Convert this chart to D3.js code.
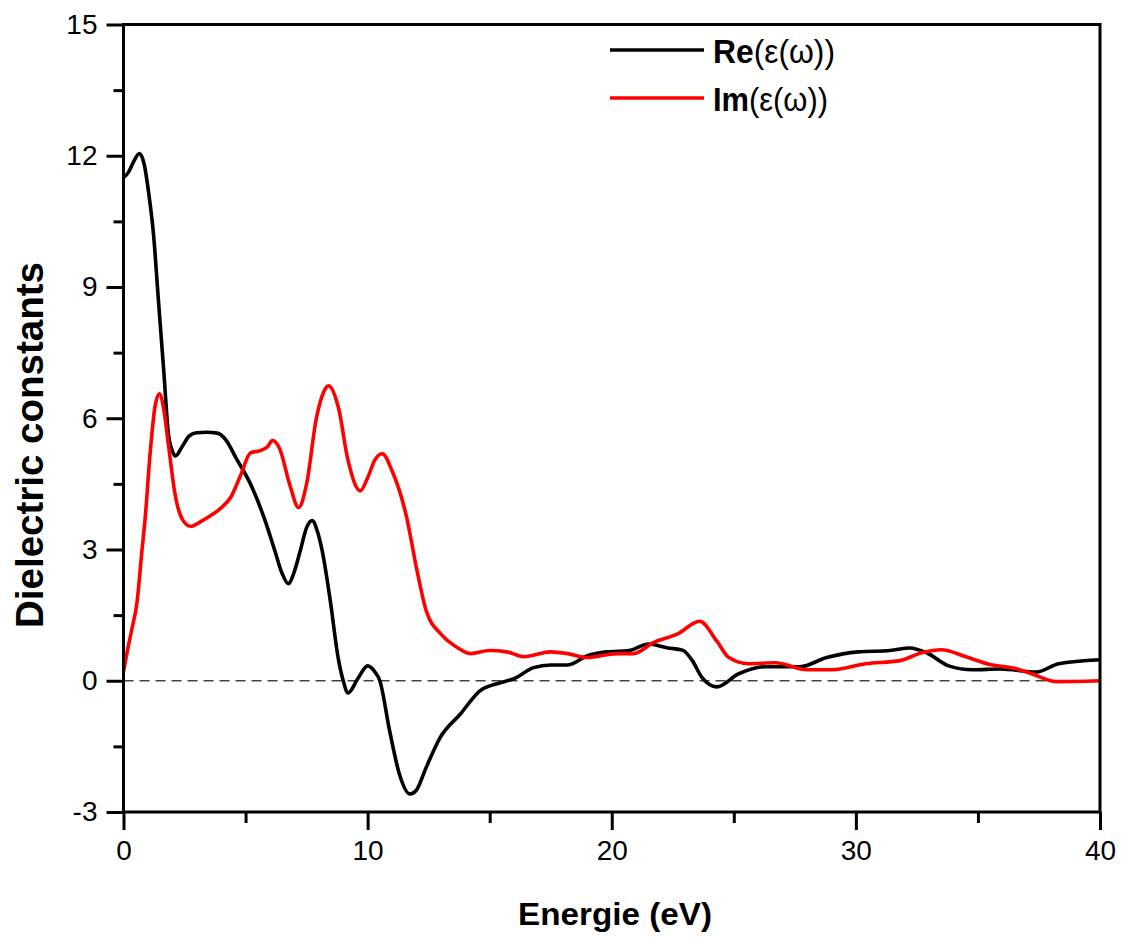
<!DOCTYPE html>
<html><head><meta charset="utf-8">
<script src="https://cdn.jsdelivr.net/npm/d3@7"></script>
<style>body{margin:0;background:#fff}svg{display:block}</style>
</head><body>
<svg id="chart" width="1123" height="941"></svg>
<script>
const energyRe = [0,0.2,0.4,0.65,0.85,1.02,1.23,1.43,1.64,1.84,2.0,2.13,2.4,2.7,3.0,3.4,3.84,4.2,4.6,5.2,5.8,6.2,6.5,6.75,7.0,7.24,7.5,7.73,7.95,8.14,8.47,8.8,9.0,9.2,9.6,10.0,10.3,10.5,10.9,11.3,11.74,12.0,12.4,12.97,13.8,14.6,15.4,16.0,16.8,17.5,18.2,19.0,19.8,20.7,21.5,22.3,22.9,23.3,23.7,24.3,25.2,26.3,27.7,28.8,30.1,31.4,32.2,32.9,33.8,34.8,35.9,37.4,38.3,40];
const reValues = [11.5,11.62,11.85,12.05,11.8,11.2,10.2,8.7,7.15,5.64,5.25,5.14,5.35,5.6,5.67,5.68,5.66,5.5,5.1,4.5,3.66,2.97,2.45,2.22,2.5,2.97,3.5,3.66,3.4,2.97,1.83,0.5,0.0,-0.28,0.05,0.34,0.2,0.0,-1.14,-2.13,-2.59,-2.5,-1.98,-1.3,-0.76,-0.23,-0.05,0.05,0.3,0.36,0.36,0.57,0.66,0.69,0.84,0.75,0.7,0.46,0.07,-0.14,0.16,0.32,0.32,0.53,0.66,0.69,0.75,0.64,0.34,0.25,0.27,0.2,0.39,0.48];
const energyIm = [0,0.14,0.35,0.55,0.76,0.88,1.1,1.3,1.47,1.65,1.84,2.1,2.4,2.75,3.2,3.56,4.0,4.4,4.8,5.2,5.6,5.9,6.1,6.4,6.8,7.17,7.5,7.9,8.2,8.4,8.8,9.2,9.7,10.0,10.3,10.6,11.0,11.6,12.0,12.4,13.0,13.7,14.2,15.0,15.7,16.4,17.5,18.2,19.0,20.2,20.9,21.7,22.7,23.6,24.3,24.8,25.6,26.7,28.0,29.0,30.4,31.8,32.7,33.5,34.5,35.5,36.6,37.2,38.2,40];
const imValues = [0.2,0.63,1.2,1.78,3.0,3.67,5.26,6.3,6.56,6.2,5.4,4.3,3.7,3.53,3.65,3.77,3.95,4.2,4.7,5.21,5.26,5.35,5.49,5.3,4.5,3.96,4.5,6.0,6.6,6.74,6.25,5.03,4.34,4.64,5.05,5.19,4.8,3.73,2.58,1.6,1.07,0.75,0.62,0.69,0.66,0.55,0.66,0.62,0.53,0.62,0.62,0.87,1.07,1.36,0.91,0.53,0.39,0.41,0.25,0.25,0.39,0.46,0.64,0.71,0.55,0.37,0.27,0.16,-0.02,0];
const xTicks = [0,10,20,30,40];
const xMinor = [5,15,25,35];
const yTicks = [-3,0,3,6,9,12,15];
const yMinor = [-1.5,1.5,4.5,7.5,10.5,13.5];
const seriesNames = ["Re", "Im"];
const seriesColors = ["#000000", "#ff0000"];
const xTitle = "Energie (eV)";
const yTitle = "Dielectric constants";

const svg = d3.select("#chart");
const L = 123.5, R = 1100, T = 24.5, B = 812;
const x = d3.scaleLinear().domain([0,40]).range([L,R]);
const y = d3.scaleLinear().domain([-3,15]).range([B,T]);
const font = "Arial, 'Liberation Sans', sans-serif";

// zero dashed line
svg.append("line").attr("x1",L).attr("x2",R).attr("y1",y(0)).attr("y2",y(0))
  .attr("stroke","#444").attr("stroke-width",1.6).attr("stroke-dasharray","10,6");

// curves
const line = d3.line().curve(d3.curveMonotoneX);
const reData = energyRe.map((e,i)=>[x(e), y(reValues[i])]);
const imData = energyIm.map((e,i)=>[x(e), y(imValues[i])]);
svg.append("path").attr("d", line(reData)).attr("fill","none").attr("stroke",seriesColors[0]).attr("stroke-width",3.6).attr("stroke-linejoin","round");
svg.append("path").attr("d", line(imData)).attr("fill","none").attr("stroke",seriesColors[1]).attr("stroke-width",3.6).attr("stroke-linejoin","round");

// axes
const fmt = d => String(d);
const xAxis = d3.axisBottom(x).tickValues(xTicks).tickSize(18).tickPadding(10).tickFormat(fmt);
const yAxis = d3.axisLeft(y).tickValues(yTicks).tickSize(17).tickPadding(9).tickFormat(fmt);
const gx = svg.append("g").attr("transform",`translate(0,${B})`).call(xAxis);
const gy = svg.append("g").attr("transform",`translate(${L},0)`).call(yAxis);
const gxm = svg.append("g").attr("transform",`translate(0,${B})`).call(d3.axisBottom(x).tickValues(xMinor).tickSize(11).tickFormat(""));
const gym = svg.append("g").attr("transform",`translate(${L},0)`).call(d3.axisLeft(y).tickValues(yMinor).tickSize(10).tickFormat(""));
[gx,gy,gxm,gym].forEach(g=>{
  g.select(".domain").remove();
  g.selectAll(".tick line").attr("stroke","#000").attr("stroke-width",3);
  g.selectAll(".tick text").attr("font-family",font).attr("font-size",28).attr("fill","#000");
});

// frame
svg.append("rect").attr("x",L).attr("y",T).attr("width",R-L).attr("height",B-T)
  .attr("fill","none").attr("stroke","#000").attr("stroke-width",3);

// titles
svg.append("text").attr("x",615).attr("y",925).attr("text-anchor","middle")
  .attr("font-family",font).attr("font-weight","bold").attr("font-size",32)
  .attr("textLength",194).attr("lengthAdjust","spacingAndGlyphs").text(xTitle);
svg.append("text").attr("transform","translate(43,445) rotate(-90)").attr("text-anchor","middle")
  .attr("font-family",font).attr("font-weight","bold").attr("font-size",38)
  .attr("textLength",366).attr("lengthAdjust","spacingAndGlyphs").text(yTitle);

// legend
const legY = [50, 98];
const legW = [122, 115];
seriesNames.forEach((n,i)=>{
  svg.append("line").attr("x1",610).attr("x2",704).attr("y1",legY[i]).attr("y2",legY[i])
    .attr("stroke",seriesColors[i]).attr("stroke-width",3.6);
  const t = svg.append("text").attr("x",713).attr("y",legY[i]+13)
    .attr("font-family",font).attr("font-size",34).attr("fill","#000")
    .attr("textLength",legW[i]).attr("lengthAdjust","spacingAndGlyphs");
  t.append("tspan").attr("font-weight","bold").text(n);
  t.append("tspan").text("(ε(ω))");
});
</script>
</body></html>
